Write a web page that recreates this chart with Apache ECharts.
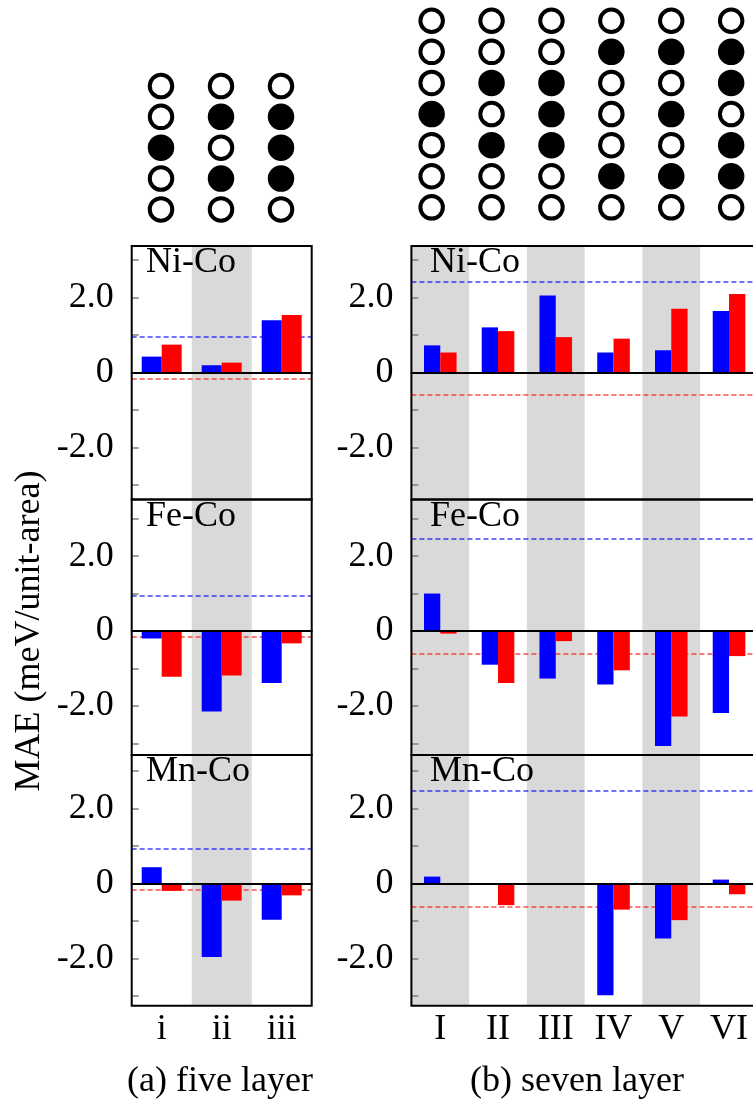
<!DOCTYPE html>
<html>
<head>
<meta charset="utf-8">
<script src="https://cdn.jsdelivr.net/npm/echarts@6/dist/echarts.min.js"></script>
<style>
  html, body { margin: 0; padding: 0; background: #fff; }
  #c { width: 753px; height: 1103px; }
</style>
</head>
<body>
<div id="c"></div>
<script>
// ---- categories ----
const fiveCats = ['i', 'ii', 'iii'];
const sevenCats = ['I', 'II', 'III', 'IV', 'V', 'VI'];
const alloyNames = ['Ni-Co', 'Fe-Co', 'Mn-Co'];

// ---- layer stacking of each structure, top to bottom (1 = doped layer) ----
const fivePatterns = [
  [0, 0, 1, 0, 0],
  [0, 1, 0, 1, 0],
  [0, 1, 1, 1, 0]
];
const sevenPatterns = [
  [0, 0, 0, 1, 0, 0, 0],
  [0, 0, 1, 0, 1, 0, 0],
  [0, 0, 1, 1, 1, 0, 0],
  [0, 1, 0, 0, 0, 1, 0],
  [0, 1, 0, 1, 0, 1, 0],
  [0, 1, 1, 0, 1, 1, 0]
];

// ---- MAE values (meV/unit-area), five-layer slabs ----
const niCoFiveBlue = [0.42, 0.19, 1.39];
const niCoFiveRed  = [0.74, 0.26, 1.53];
const feCoFiveBlue = [-0.20, -2.15, -1.39];
const feCoFiveRed  = [-1.22, -1.19, -0.33];
const mnCoFiveBlue = [0.43, -1.96, -0.97];
const mnCoFiveRed  = [-0.20, -0.46, -0.32];

// ---- MAE values (meV/unit-area), seven-layer slabs ----
const niCoSevenBlue = [0.72, 1.20, 2.05, 0.53, 0.59, 1.64];
const niCoSevenRed  = [0.53, 1.10, 0.94, 0.90, 1.70, 2.09];
const feCoSevenBlue = [1.00, -0.90, -1.27, -1.43, -3.07, -2.19];
const feCoSevenRed  = [-0.07, -1.39, -0.27, -1.05, -2.28, -0.67];
const mnCoSevenBlue = [0.18, 0, 0, -2.98, -1.47, 0.10];
const mnCoSevenRed  = [0, -0.58, 0, -0.70, -0.98, -0.29];

// ---- reference levels (pure Co slab), per alloy row ----
const fiveBlueRef  = [0.94, 0.93, 0.91];
const fiveRedRef   = [-0.16, -0.16, -0.16];
const sevenBlueRef = [2.43, 2.45, 2.46];
const sevenRedRef  = [-0.60, -0.62, -0.62];

// ---- axis ticks ----
const yTickValues  = [-3, -2, -1, 0, 1, 2, 3];
const yLabelValues = [-2, 0, 2];

const FONT = '"Liberation Serif", "Times New Roman", "DejaVu Serif", serif';
const BLUE = '#0000ff';
const RED = '#ff0000';
const BAND = '#d9d9d9';

// panel rows (Ni-Co, Fe-Co, Mn-Co)
const rowTops = [246, 499.5, 755];
const rowHeights = [253.5, 255.5, 250.7];
const rowRanges = [[-3.39, 3.37], [-3.31, 3.51], [-3.26, 3.42]];

const columns = [
  {
    left: 131.7, width: 180, barWidth: 20, cats: fiveCats,
    bands: ['rgba(0,0,0,0)', BAND],
    blue: [niCoFiveBlue, feCoFiveBlue, mnCoFiveBlue],
    red: [niCoFiveRed, feCoFiveRed, mnCoFiveRed],
    blueRef: fiveBlueRef, redRef: fiveRedRef, labelX: 146
  },
  {
    left: 411.4, width: 346.5, barWidth: 16.3, cats: sevenCats,
    bands: [BAND, 'rgba(0,0,0,0)'],
    blue: [niCoSevenBlue, feCoSevenBlue, mnCoSevenBlue],
    red: [niCoSevenRed, feCoSevenRed, mnCoSevenRed],
    blueRef: sevenBlueRef, redRef: sevenRedRef, labelX: 430
  }
];

const grid = [], xAxis = [], yAxis = [], series = [], graphic = [];
const textStyle = { fontFamily: FONT, fontSize: 36, color: '#000' };

columns.forEach(function (col) {
  for (let r = 0; r < 3; r++) {
    const gi = grid.length;
    grid.push({
      left: col.left, width: col.width, top: rowTops[r], height: rowHeights[r],
      outerBoundsMode: 'none', containLabel: false,
      show: true, backgroundColor: 'rgba(0,0,0,0)', borderColor: '#000', borderWidth: 2, z: 3
    });
    // category axis carrying labels and the shaded bands
    const labelAxis = xAxis.length;
    xAxis.push({
      gridIndex: gi, type: 'category', data: col.cats, position: 'bottom',
      axisLine: { show: false, onZero: false },
      axisTick: { show: false },
      axisLabel: Object.assign({ show: r === 2, margin: 6, interval: 0 }, textStyle),
      splitLine: { show: false },
      splitArea: { show: true, interval: 0, areaStyle: { color: col.bands } }
    });
    // second category axis drawn as the zero line
    xAxis.push({
      gridIndex: gi, type: 'category', data: col.cats, position: 'top',
      axisLine: { show: true, onZero: true, lineStyle: { color: '#000', width: 2 } },
      axisTick: { show: false }, axisLabel: { show: false },
      splitLine: { show: false }, z: 4
    });
    const yi = yAxis.length;
    yAxis.push({
      gridIndex: gi, type: 'value', min: rowRanges[r][0], max: rowRanges[r][1],
      axisLine: { show: false },
      splitLine: { show: false },
      axisTick: { show: true, inside: true, length: 7, customValues: yTickValues,
                  lineStyle: { color: '#808080', width: 1.5 } },
      axisLabel: Object.assign({
        customValues: yLabelValues, margin: 18,
        formatter: function (v) { return v === 0 ? '0' : v.toFixed(1); }
      }, textStyle)
    });
    series.push({
      type: 'bar', xAxisIndex: labelAxis, yAxisIndex: yi,
      data: col.blue[r], barWidth: col.barWidth, barGap: '0%',
      itemStyle: { color: BLUE }, z: 2,
      markLine: {
        silent: true, symbol: 'none', z: 1, label: { show: false },
        lineStyle: { color: 'rgba(0,0,255,0.75)', type: [5, 3], width: 1.5 },
        data: [{ yAxis: col.blueRef[r] }]
      }
    });
    series.push({
      type: 'bar', xAxisIndex: labelAxis, yAxisIndex: yi,
      data: col.red[r], barWidth: col.barWidth, barGap: '0%',
      itemStyle: { color: RED }, z: 2,
      markLine: {
        silent: true, symbol: 'none', z: 1, label: { show: false },
        lineStyle: { color: 'rgba(255,0,0,0.7)', type: [5, 3], width: 1.5 },
        data: [{ yAxis: col.redRef[r] }]
      }
    });
    graphic.push({
      type: 'text', x: col.labelX, y: rowTops[r] + 17, z: 10,
      style: { text: alloyNames[r], verticalAlign: 'middle', align: 'left', font: '36px ' + FONT, fill: '#000' }
    });
  }
});

// ---- layer-stacking diagrams above each column ----
function addStacks(patterns, cats, box) {
  const gi = grid.length;
  const n = patterns[0].length;
  grid.push({ left: box.left, width: box.width, top: box.top, height: box.height,
              outerBoundsMode: 'none', show: false });
  const xi = xAxis.length;
  xAxis.push({ gridIndex: gi, type: 'category', data: cats, show: false });
  const yi = yAxis.length;
  yAxis.push({ gridIndex: gi, type: 'value', inverse: true, min: -0.5, max: n - 0.5, show: false });
  const filled = [], hollow = [];
  patterns.forEach(function (p, i) {
    p.forEach(function (v, j) { (v ? filled : hollow).push([i, j]); });
  });
  series.push({
    type: 'scatter', xAxisIndex: xi, yAxisIndex: yi, data: hollow, symbol: 'circle', symbolSize: 22.5,
    itemStyle: { color: '#fff', borderColor: '#000', borderWidth: 4, opacity: 1 }
  });
  series.push({
    type: 'scatter', xAxisIndex: xi, yAxisIndex: yi, data: filled, symbol: 'circle', symbolSize: 22.5,
    itemStyle: { color: '#000', borderColor: '#000', borderWidth: 4, opacity: 1 }
  });
}
addStacks(fivePatterns, fiveCats, { left: 131, width: 180, top: 70.6, height: 154.2 });
addStacks(sevenPatterns, sevenCats, { left: 401.7, width: 359.4, top: 5.2, height: 217.7 });

// ---- shared texts ----
graphic.push({
  type: 'text', x: 29.5, y: 631, rotation: Math.PI / 2, z: 10,
  style: { text: 'MAE (meV/unit-area)', font: '36px ' + FONT, fill: '#000', align: 'center', verticalAlign: 'middle' }
});
graphic.push({
  type: 'text', x: 220, y: 1082, z: 10,
  style: { text: '(a) five layer', font: '36px ' + FONT, fill: '#000', align: 'center', verticalAlign: 'middle' }
});
graphic.push({
  type: 'text', x: 577, y: 1082, z: 10,
  style: { text: '(b) seven layer', font: '36px ' + FONT, fill: '#000', align: 'center', verticalAlign: 'middle' }
});

const chart = echarts.init(document.getElementById('c'), null, { renderer: 'canvas' });
chart.setOption({
  animation: false,
  backgroundColor: '#fff',
  grid: grid,
  xAxis: xAxis,
  yAxis: yAxis,
  series: series,
  graphic: graphic
});
</script>
</body>
</html>
